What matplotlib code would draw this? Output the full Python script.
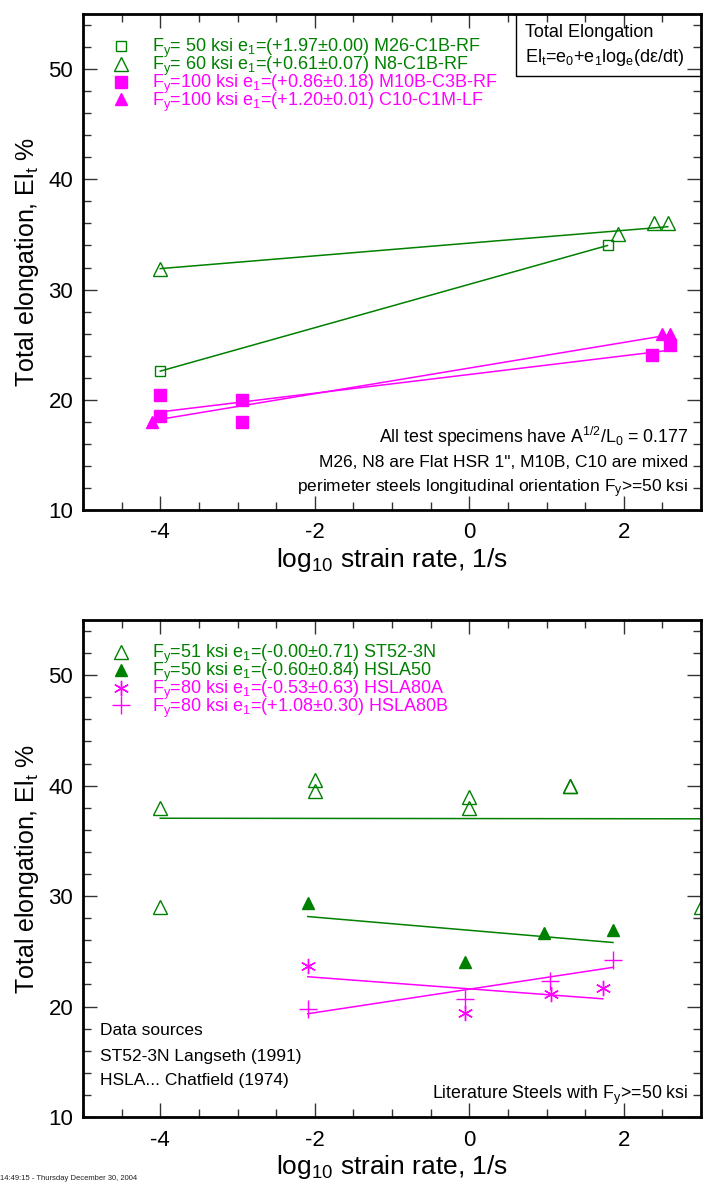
import matplotlib
matplotlib.use('Agg')
import matplotlib.pyplot as plt
from matplotlib.patches import Rectangle
from matplotlib.ticker import MultipleLocator

plt.rcParams['font.family'] = ['Liberation Sans', 'DejaVu Sans']
plt.rcParams['mathtext.fontset'] = 'custom'
plt.rcParams['mathtext.rm'] = 'Liberation Sans'
plt.rcParams['mathtext.it'] = 'Liberation Sans:italic'
plt.rcParams['axes.unicode_minus'] = False

GREEN = '#008000'
MAGENTA = '#ff00ff'

# ---- top panel data (log10 strain rate, total elongation %) ----
m26_x = [-4.0, 1.79]
m26_y = [22.6, 34.0]
m26_fit_x = [-4.0, 1.79]
m26_fit_y = [22.6, 34.0]

n8_x = [-4.0, 1.93, 2.39, 2.57]
n8_y = [31.9, 35.0, 36.0, 36.0]
n8_fit_x = [-4.0, 2.57]
n8_fit_y = [31.9, 35.7]

m10b_x = [-4.0, -4.0, -2.94, -2.94, 2.36, 2.6]
m10b_y = [20.45, 18.55, 20.0, 18.0, 24.05, 25.0]
m10b_fit_x = [-4.0, 2.6]
m10b_fit_y = [18.9, 24.5]

c10_x = [-4.11, 2.49, 2.6]
c10_y = [18.0, 26.0, 26.0]
c10_fit_x = [-4.11, 2.6]
c10_fit_y = [18.1, 25.9]

# ---- bottom panel data ----
st52_x = [-4.0, -4.0, -2.0, -2.0, 0.0, 0.0, 1.3, 1.3, 3.0]
st52_y = [38.0, 29.05, 40.5, 39.55, 39.0, 38.0, 40.0, 40.0, 29.0]
st52_fit_x = [-4.0, 3.0]
st52_fit_y = [37.05, 37.0]

hsla50_x = [-2.09, -0.05, 0.97, 1.86]
hsla50_y = [29.4, 24.0, 26.7, 26.95]
hsla50_fit_x = [-2.09, 1.86]
hsla50_fit_y = [28.15, 25.8]

hsla80a_x = [-2.09, -0.05, 1.06, 1.73]
hsla80a_y = [23.7, 19.45, 21.15, 21.65]
hsla80a_fit_x = [-2.09, 1.73]
hsla80a_fit_y = [22.7, 20.7]

hsla80b_x = [-2.09, -0.05, 1.05, 1.86]
hsla80b_y = [19.8, 20.7, 22.35, 24.25]
hsla80b_fit_x = [-2.09, 1.86]
hsla80b_fit_y = [19.35, 23.55]

top_labels = [
    'F$_\\mathrm{y}$= 50 ksi e$_\\mathrm{1}$=(+1.97±0.00) M26-C1B-RF',
    'F$_\\mathrm{y}$= 60 ksi e$_\\mathrm{1}$=(+0.61±0.07) N8-C1B-RF',
    'F$_\\mathrm{y}$=100 ksi e$_\\mathrm{1}$=(+0.86±0.18) M10B-C3B-RF',
    'F$_\\mathrm{y}$=100 ksi e$_\\mathrm{1}$=(+1.20±0.01) C10-C1M-LF',
]
bottom_labels = [
    'F$_\\mathrm{y}$=51 ksi e$_\\mathrm{1}$=(-0.00±0.71) ST52-3N',
    'F$_\\mathrm{y}$=50 ksi e$_\\mathrm{1}$=(-0.60±0.84) HSLA50',
    'F$_\\mathrm{y}$=80 ksi e$_\\mathrm{1}$=(-0.53±0.63) HSLA80A',
    'F$_\\mathrm{y}$=80 ksi e$_\\mathrm{1}$=(+1.08±0.30) HSLA80B',
]

W, H = 703, 1183
fig = plt.figure(figsize=(W / 100, H / 100), dpi=100)
ax1 = fig.add_axes([83 / W, 1 - 510 / H, 618 / W, 496 / H])
ax2 = fig.add_axes([83 / W, 1 - 1117 / H, 618 / W, 497 / H])


def style_axes(ax):
    ax.set_xlim(-5, 3)
    ax.set_ylim(10, 55)
    ax.xaxis.set_major_locator(MultipleLocator(2))
    ax.xaxis.set_minor_locator(MultipleLocator(0.5))
    ax.yaxis.set_major_locator(MultipleLocator(10))
    ax.yaxis.set_minor_locator(MultipleLocator(2))
    ax.tick_params(which='both', direction='in', top=True, right=True,
                   width=1.0, labelsize=16, color='#333333')
    ax.tick_params(which='major', length=10)
    ax.tick_params(which='minor', length=6)
    ax.tick_params(axis='x', pad=9)
    ax.tick_params(axis='y', pad=7)
    for s in ax.spines.values():
        s.set_linewidth(2.0)
    ax.set_xlabel('log$_{10}$ strain rate, 1/s', fontsize=19, labelpad=2)
    ax.set_ylabel('Total elongation, El$_\\mathrm{t}$ %', fontsize=18, labelpad=5)


lw = 1.1
# top panel
h1, = ax1.plot(m26_x, m26_y, ls='none', marker='s', ms=7, mfc='none', mec=GREEN, color=GREEN, mew=1.0)
h2, = ax1.plot(n8_x, n8_y, ls='none', marker='^', ms=10, mfc='none', mec=GREEN, color=GREEN, mew=1.0)
h3, = ax1.plot(m10b_x, m10b_y, ls='none', marker='s', ms=8, color=MAGENTA)
h4, = ax1.plot(c10_x, c10_y, ls='none', marker='^', ms=9, color=MAGENTA)
ax1.plot(m26_fit_x, m26_fit_y, color=GREEN, lw=lw)
ax1.plot(n8_fit_x, n8_fit_y, color=GREEN, lw=lw)
ax1.plot(m10b_fit_x, m10b_fit_y, color=MAGENTA, lw=lw)
ax1.plot(c10_fit_x, c10_fit_y, color=MAGENTA, lw=lw)

# bottom panel
g1, = ax2.plot(st52_x, st52_y, ls='none', marker='^', ms=10, mfc='none', mec=GREEN, color=GREEN, mew=1.0)
g2, = ax2.plot(hsla50_x, hsla50_y, ls='none', marker='^', ms=9, color=GREEN)
g3, = ax2.plot(hsla80a_x, hsla80a_y, ls='none', marker=(6, 2, 0), ms=11, color=MAGENTA, mew=1.0)
g4, = ax2.plot(hsla80b_x, hsla80b_y, ls='none', marker='+', ms=13, color=MAGENTA, mew=1.0)
ax2.plot(st52_fit_x, st52_fit_y, color=GREEN, lw=lw)
ax2.plot(hsla50_fit_x, hsla50_fit_y, color=GREEN, lw=lw)
ax2.plot(hsla80a_fit_x, hsla80a_fit_y, color=MAGENTA, lw=lw)
ax2.plot(hsla80b_fit_x, hsla80b_fit_y, color=MAGENTA, lw=lw)

for ax in (ax1, ax2):
    style_axes(ax)

# legend rows sit tight, like the original
leg_kw = dict(loc='upper left', frameon=False, fontsize=13, handlelength=1.0,
              handletextpad=1.25, labelspacing=-0.3, borderaxespad=0.0,
              labelcolor='linecolor')
ax1.legend([h1, h2, h3, h4], top_labels, bbox_to_anchor=(0.035, 0.968), **leg_kw)
ax2.legend([g1, g2, g3, g4], bottom_labels, bbox_to_anchor=(0.035, 0.968), **leg_kw)

# formula box (top right)
ax1.add_patch(Rectangle((0.7006, 0.875), 0.35, 0.2, transform=ax1.transAxes,
                        fill=False, lw=1.0, ec='black', clip_on=True))
ax1.text(0.716, 0.962, 'Total Elongation', transform=ax1.transAxes,
         fontsize=13, va='center', ha='left')
ax1.text(0.716, 0.913, 'El$_\\mathrm{t}$=e$_\\mathrm{0}$+e$_\\mathrm{1}$log$_\\mathrm{e}$(dε/dt)',
         transform=ax1.transAxes, fontsize=13, va='center', ha='left')

ax1.text(0.979, 0.147, 'All test specimens have A$^\\mathrm{1/2}$/L$_\\mathrm{0}$ = 0.177',
         transform=ax1.transAxes, fontsize=12.8, va='center', ha='right')
ax1.text(0.979, 0.095, 'M26, N8 are Flat HSR 1", M10B, C10 are mixed',
         transform=ax1.transAxes, fontsize=12.5, va='center', ha='right')
ax1.text(0.979, 0.042, 'perimeter steels longitudinal orientation F$_\\mathrm{y}$>=50 ksi',
         transform=ax1.transAxes, fontsize=12.5, va='center', ha='right')

ax2.text(0.0275, 0.175, 'Data sources', transform=ax2.transAxes,
         fontsize=12.5, va='center', ha='left')
ax2.text(0.0275, 0.121, 'ST52-3N Langseth (1991)', transform=ax2.transAxes,
         fontsize=12.5, va='center', ha='left')
ax2.text(0.0275, 0.073, 'HSLA... Chatfield (1974)', transform=ax2.transAxes,
         fontsize=12.5, va='center', ha='left')
ax2.text(0.979, 0.044, 'Literature Steels with F$_\\mathrm{y}$>=50 ksi',
         transform=ax2.transAxes, fontsize=12.8, va='center', ha='right')

fig.text(0.0, 5 / H, '14:49:15 - Thursday December 30, 2004', fontsize=5.5,
         va='center', ha='left', color='#222222')

fig.savefig('out.png', dpi=100)
